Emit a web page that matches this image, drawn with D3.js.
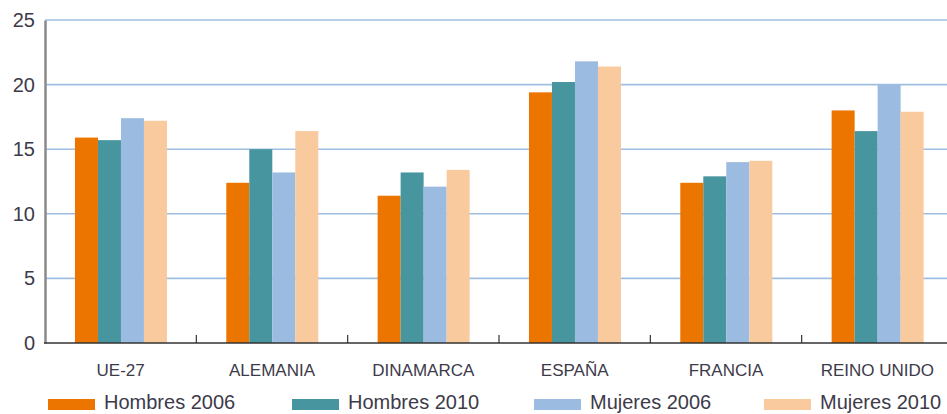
<!DOCTYPE html>
<html><head><meta charset="utf-8">
<script src="https://cdn.jsdelivr.net/npm/d3@7"></script>
<style>body{margin:0;background:#fff;overflow:hidden}svg{display:block}</style>
</head><body>
<script>
const categories = ["UE-27","ALEMANIA","DINAMARCA","ESPAÑA","FRANCIA","REINO UNIDO"];
const seriesNames = ["Hombres 2006","Hombres 2010","Mujeres 2006","Mujeres 2010"];
const hombres2006 = [15.9, 12.4, 11.4, 19.4, 12.4, 18.0];
const hombres2010 = [15.7, 15.0, 13.2, 20.2, 12.9, 16.4];
const mujeres2006 = [17.4, 13.2, 12.1, 21.8, 14.0, 20.0];
const mujeres2010 = [17.2, 16.4, 13.4, 21.4, 14.1, 17.9];
const yTicks = [0,5,10,15,20,25];
const colors = ["#EC7500","#47959E","#9BBBE0","#FACA9F"];
const seriesValues = [hombres2006, hombres2010, mujeres2006, mujeres2010];

const W = 947, H = 414;
const svg = d3.select("body").append("svg").attr("width", W).attr("height", H);
const fontFam = "'Liberation Sans',Arial,sans-serif";

const x = d3.scaleBand().domain(categories).range([45, 953]).padding(0);
const inner = d3.scaleBand().domain(seriesNames)
  .range([x.bandwidth()*0.198, x.bandwidth()*0.198 + 92]).padding(0);
const y = d3.scaleLinear().domain([0,25]).range([343, 20]);

// gridlines
svg.append("g").selectAll("line").data(yTicks.filter(d=>d>0)).join("line")
  .attr("x1", 45).attr("x2", W).attr("y1", d=>y(d)).attr("y2", d=>y(d))
  .attr("stroke", "#9fbfe2").attr("stroke-width", 1.6);

// bars
const groups = svg.append("g").selectAll("g").data(categories).join("g")
  .attr("transform", d=>`translate(${x(d)},0)`);
groups.selectAll("rect").data((c,i)=>seriesNames.map((s,j)=>({s, v: seriesValues[j][i], j})))
  .join("rect")
  .attr("x", d=>inner(d.s)).attr("width", inner.bandwidth())
  .attr("y", d=>y(d.v)).attr("height", d=>y(0)-y(d.v))
  .attr("fill", d=>colors[d.j]);

// y axis
const yAxis = d3.axisLeft(y).tickValues(yTicks).tickSize(0).tickPadding(10);
const gy = svg.append("g").attr("transform", "translate(45,0)").call(yAxis);
gy.select(".domain").attr("stroke", "#8a8a8a").attr("stroke-width", 2.5);
gy.selectAll("text").attr("font-family", fontFam).attr("font-size", 20).attr("fill", "#3d3a4a");

// x axis
const gx = svg.append("g").attr("transform", "translate(0,343)");
gx.append("line").attr("x1", 44).attr("x2", W).attr("y1", 0).attr("y2", 0)
  .attr("stroke", "#333").attr("stroke-width", 1.6);
gx.selectAll("line.tk").data(categories.slice(1)).join("line").attr("class","tk")
  .attr("x1", d=>x(d)).attr("x2", d=>x(d)).attr("y1", 0).attr("y2", -8)
  .attr("stroke", "#333").attr("stroke-width", 1.2);
gx.selectAll("text").data(categories).join("text")
  .attr("x", d=>x(d)+x.bandwidth()/2).attr("y", 33)
  .attr("text-anchor","middle").attr("font-family", fontFam).attr("font-size", 17)
  .attr("fill", "#3d3a4a").text(d=>d);

// legend
const legX = [48, 292, 534, 764];
const leg = svg.append("g").selectAll("g").data(seriesNames).join("g")
  .attr("transform", (d,i)=>`translate(${legX[i]},0)`);
leg.append("rect").attr("x",0).attr("y",399).attr("width",47).attr("height",11)
  .attr("fill",(d,i)=>colors[i]);
leg.append("text").attr("x",56).attr("y",409).attr("font-family", fontFam)
  .attr("font-size", 20).attr("fill","#3d3a4a").text(d=>d);
</script>
</body></html>
